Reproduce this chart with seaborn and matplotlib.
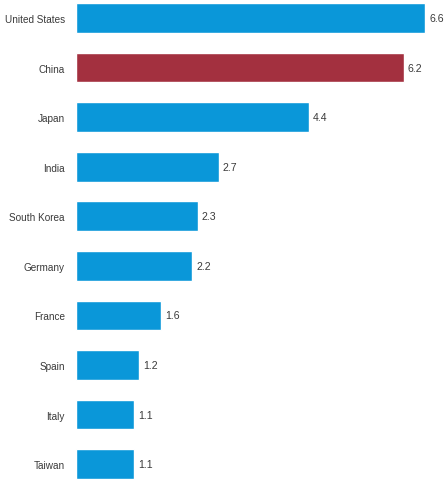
import matplotlib
matplotlib.use("Agg")
import matplotlib.pyplot as plt
import seaborn as sns
import pandas as pd

countries = ["United States", "China", "Japan", "India", "South Korea",
             "Germany", "France", "Spain", "Italy", "Taiwan"]
values = [6.6, 6.2, 4.4, 2.7, 2.3, 2.2, 1.6, 1.2, 1.1, 1.1]
highlight = "China"

blue = "#0A97D9"
red = "#A3303F"
text_color = "#3A3A3A"

sns.set_theme(style="white")
plt.rcParams["font.family"] = ["Liberation Sans", "DejaVu Sans"]

df = pd.DataFrame({"country": countries, "value": values})
palette = {c: (red if c == highlight else blue) for c in countries}

fig = plt.figure(figsize=(4.45, 4.81), dpi=100)
ax = fig.add_axes([76 / 445, 0, 369 / 445, 1])

sns.barplot(data=df, x="value", y="country", hue="country", palette=palette,
            order=countries, width=0.6, legend=False, ax=ax, saturation=1)

ax.set_xlim(0, 6.98)
ax.set_ylim(9.32, -0.383)
ax.set_xlabel("")
ax.set_ylabel("")
ax.set_xticks([])
ax.tick_params(axis="y", length=0, pad=8, labelsize=7.2, labelcolor=text_color)
for s in ax.spines.values():
    s.set_visible(False)

for i, v in enumerate(values):
    ax.text(v + 0.08, i, f"{v:.1f}", va="center", ha="left",
            fontsize=7.6, color=text_color)

fig.savefig("out.png", dpi=100)
